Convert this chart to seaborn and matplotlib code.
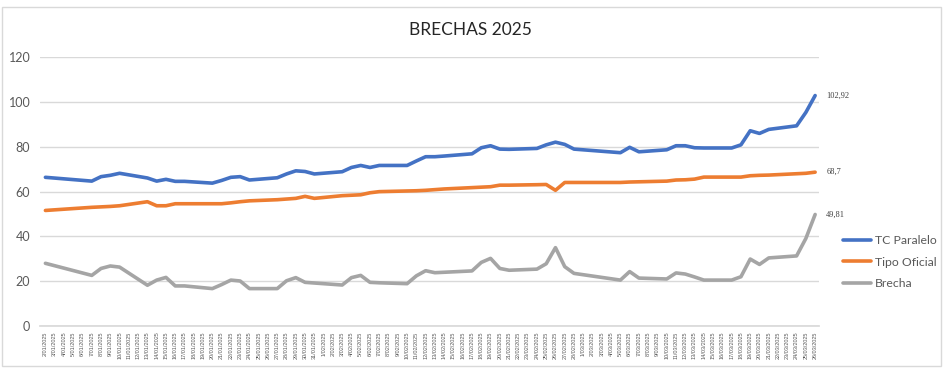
import pandas as pd
import matplotlib
matplotlib.use('Agg')
import matplotlib.pyplot as plt
import matplotlib.patches as mpatches
import seaborn as sns

# Datos (dias habiles)
fechas = [
    '2025-01-02', '2025-01-07', '2025-01-08', '2025-01-09', '2025-01-10',
    '2025-01-13', '2025-01-14', '2025-01-15', '2025-01-16', '2025-01-17',
    '2025-01-20', '2025-01-21', '2025-01-22', '2025-01-23', '2025-01-24',
    '2025-01-27', '2025-01-28', '2025-01-29', '2025-01-30', '2025-01-31',
    '2025-02-03', '2025-02-04', '2025-02-05', '2025-02-06', '2025-02-07',
    '2025-02-10', '2025-02-11', '2025-02-12', '2025-02-13', '2025-02-14',
    '2025-02-17', '2025-02-18', '2025-02-19', '2025-02-20', '2025-02-21',
    '2025-02-24', '2025-02-25', '2025-02-26', '2025-02-27', '2025-02-28',
    '2025-03-05', '2025-03-06', '2025-03-07', '2025-03-10', '2025-03-11',
    '2025-03-12', '2025-03-13', '2025-03-14', '2025-03-17', '2025-03-18',
    '2025-03-19', '2025-03-20', '2025-03-21', '2025-03-24', '2025-03-25',
    '2025-03-26',
]
tc_paralelo = [
    66.4, 64.7, 66.7, 67.3, 68.2, 66.1, 64.7, 65.5, 64.6, 64.6,
    63.8, 65.0, 66.4, 66.7, 65.2, 66.2, 67.9, 69.3, 69.0, 67.9,
    68.9, 70.8, 71.7, 70.8, 71.7, 71.7, 73.7, 75.6, 75.6, 75.9,
    76.9, 79.6, 80.5, 79.0, 78.9, 79.3, 80.9, 82.1, 81.1, 79.0,
    77.4, 79.8, 77.8, 78.7, 80.5, 80.5, 79.6, 79.5, 79.5, 80.9,
    87.2, 86.0, 87.8, 89.4, 95.4, 102.92,
]
tipo_oficial = [
    51.6, 53.0, 53.2, 53.4, 53.7, 55.5, 53.7, 53.7, 54.6, 54.6,
    54.6, 54.6, 55.0, 55.5, 55.9, 56.4, 56.7, 57.0, 57.9, 57.0,
    58.2, 58.4, 58.6, 59.5, 60.0, 60.3, 60.4, 60.6, 60.9, 61.2,
    61.8, 62.0, 62.2, 62.9, 62.9, 63.1, 63.2, 60.6, 64.1, 64.1,
    64.1, 64.3, 64.4, 64.7, 65.2, 65.3, 65.6, 66.5, 66.5, 66.5,
    67.1, 67.3, 67.4, 68.0, 68.2, 68.7,
]
brecha = [
    28.0, 22.6, 25.7, 26.8, 26.3, 18.2, 20.5, 21.7, 17.9, 17.9,
    16.7, 18.5, 20.5, 20.1, 16.7, 16.7, 20.2, 21.6, 19.5, 19.2,
    18.3, 21.6, 22.6, 19.5, 19.3, 18.9, 22.4, 24.7, 23.8, 24.0,
    24.6, 28.4, 30.2, 25.7, 24.9, 25.4, 27.8, 35.0, 26.5, 23.5,
    20.5, 24.3, 21.4, 21.0, 23.7, 23.2, 21.9, 20.5, 20.5, 22.0,
    29.9, 27.5, 30.4, 31.3, 39.1, 49.81,
]
series = ['TC Paralelo', 'Tipo Oficial', 'Brecha']
colores = ['#4472C4', '#ED7D31', '#A5A5A5']
etiquetas_finales = ['102,92', '68,7', '49,81']
y_ticks = [0, 20, 40, 60, 80, 100, 120]

fechas_dt = pd.to_datetime(fechas)
df = pd.concat([
    pd.DataFrame({'fecha': fechas_dt, 'valor': vals, 'serie': name})
    for name, vals in zip(series, [tc_paralelo, tipo_oficial, brecha])
])

sns.set_theme(style='white')
plt.rcParams['font.family'] = ['Lato', 'DejaVu Sans']

fig = plt.figure(figsize=(9.45, 3.69), dpi=100)
ax = fig.add_axes([40 / 945, 1 - 326 / 369, 779 / 945, (326 - 57.3) / 369])

sns.lineplot(data=df, x='fecha', y='valor', hue='serie', hue_order=series,
             palette=colores, linewidth=2.6, ax=ax, legend=True)

# eje x: un rotulo por dia
dias = pd.date_range(fechas_dt[0], fechas_dt[-1], freq='D')
ax.set_xticks(dias)
ax.set_xticklabels([f'{d.day}/{d.month:02d}/{d.year}' for d in dias],
                   rotation=90, fontsize=4, color='#595959',
                   family='Liberation Sans')
ax.set_xlim(dias[0] - pd.Timedelta(hours=14), dias[-1] + pd.Timedelta(hours=10))
ax.set_ylim(0, 120)
ax.set_yticks(y_ticks)
ax.set_yticklabels([str(v) for v in y_ticks], fontsize=9, color='#595959')
ax.tick_params(axis='both', length=0)
ax.tick_params(axis='x', pad=4)
ax.tick_params(axis='y', pad=7)
ax.set_xlabel('')
ax.set_ylabel('')
ax.grid(axis='y', color='#D9D9D9', linewidth=1)
ax.grid(axis='x', visible=False)
for s in ['top', 'right', 'left']:
    ax.spines[s].set_visible(False)
ax.spines['bottom'].set_color('#D9D9D9')

# etiquetas del ultimo valor
for vals, lab in zip([tc_paralelo, tipo_oficial, brecha], etiquetas_finales):
    ax.annotate(lab, xy=(fechas_dt[-1], vals[-1]), xytext=(8, 0),
                textcoords='offset points', ha='left', va='center',
                fontsize=6, color='#404040', family='Liberation Serif')

handles, labels = ax.get_legend_handles_labels()
ax.get_legend().remove()
fig.legend(handles, labels, loc='center left', bbox_to_anchor=(843 / 945, 1 - 262 / 369),
           frameon=False, fontsize=8.8, handlelength=2.3, handletextpad=0.3,
           labelspacing=0.85, borderpad=0, borderaxespad=0, labelcolor='#595959')

fig.text(470 / 945, 1 - 30 / 369, 'BRECHAS 2025', ha='center', va='center',
         fontsize=12.5, color='#262626')

fig.add_artist(mpatches.Rectangle((2 / 945, 3 / 369), 939 / 945, 359 / 369,
                                  transform=fig.transFigure, fill=False,
                                  edgecolor='#D9D9D9', linewidth=1))

fig.savefig('out.png', dpi=100)
